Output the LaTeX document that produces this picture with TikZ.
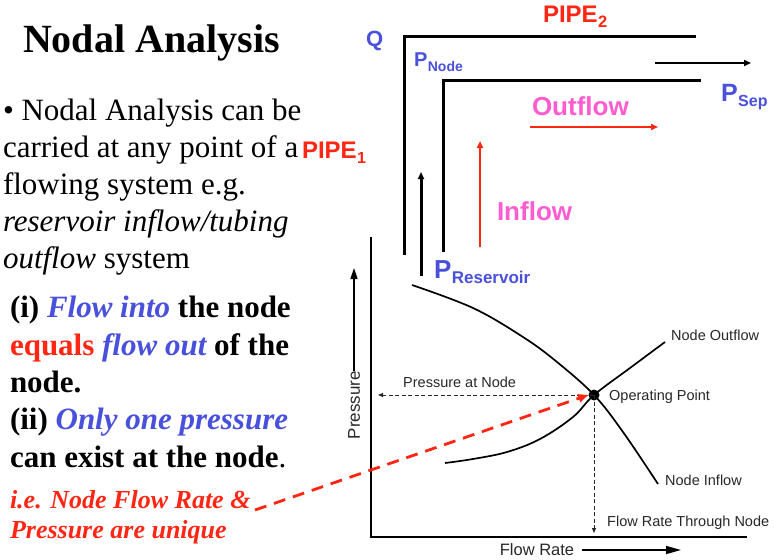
\documentclass[tikz,border=0pt]{standalone}
\usepackage{fontspec}
\setmainfont{Liberation Serif}
\newfontfamily\arial{Liberation Sans}
\usetikzlibrary{arrows.meta}
\definecolor{myblue}{RGB}{72,80,220}
\definecolor{myred}{RGB}{255,38,20}
\definecolor{mypink}{RGB}{255,92,210}
\definecolor{graytext}{RGB}{40,40,40}
\newcommand{\fs}[1]{\fontsize{#1}{#1}\selectfont}
\newcommand{\Psub}[4]{{\fs{#3}#1}\kern0.5pt\raisebox{-5pt}{\fs{#4}#2}}
\begin{document}
\begin{tikzpicture}[x=1pt,y=-1pt,
  txtline/.style={anchor=base west, inner sep=0pt, outer sep=0pt},
  body/.style={txtline, font=\fs{31}},
  boldbody/.style={txtline, font=\fs{31}\bfseries},
  note/.style={txtline, font=\fs{26}\bfseries\itshape, text=myred},
  plab/.style={txtline, font=\arial\bfseries},
  glab/.style={anchor=west, inner sep=0pt, font=\arial\fs{14.5}, text=graytext},
  pipe/.style={line width=3pt, line cap=rect},
  guide/.style={dash pattern=on 4pt off 2.5pt, line width=0.8pt, draw=graytext, -{Triangle[length=5pt,width=4pt]}},
  curve/.style={line width=1.7pt},
  axis/.style={line width=2pt}
]
\useasboundingbox (0,0) rectangle (775,559);
\fill[white] (0,0) rectangle (775,559);

% ---------- left text ----------
\node[txtline, font=\fs{40}\bfseries] (title) at (23,53) {Nodal Analysis};
\node[body] (b1) at (3,120) {• Nodal Analysis can be};
\node[body] (b2) at (3,157) {carried at any point of a};
\node[body] (b3) at (3,194) {flowing system e.g.};
\node[body] (b4) at (3,231) {\itshape reservoir inflow/tubing};
\node[body] (b5) at (3,268) {{\itshape outflow} system};

\node[boldbody] (c1) at (10,317) {(i) \textcolor{myblue}{\itshape Flow into} the node};
\node[boldbody] (c2) at (10,355) {\textcolor{myred}{equals} \textcolor{myblue}{\itshape flow out} of the};
\node[boldbody] (c3) at (10,392) {node.};
\node[boldbody] (c4) at (10,429) {(ii) \textcolor{myblue}{\itshape Only one pressure}};
\node[boldbody] (c5) at (10,467) {can exist at the node{\mdseries .}};

\node[note] (n1) at (10,508) {i.e. Node Flow Rate \&};
\node[note] (n2) at (10,538) {Pressure are unique};
\coordinate (nend) at (255,510);

% ---------- pipe diagram ----------
\draw[pipe] (404,253) -- (404,37) -- (694,37);
\draw[pipe] (443,250) -- (443,81) -- (699,81);

\node[plab, text=myred] (pipe2) at (543,23) {\Psub{PIPE}{2}{24}{16.5}};
\node[plab, text=myred] (pipe1) at (302,158) {\Psub{PIPE}{1}{24}{16}};
\node[plab, text=myblue, font=\arial\bfseries\fs{22}] (q) at (366,47) {Q};
\node[plab, text=myblue] (pnode) at (414,67) {\Psub{P}{Node}{20}{14}};
\node[plab, text=myblue] (psep) at (721,102) {\Psub{P}{Sep}{25}{16}};
\node[plab, text=myblue] (pres) at (434,278) {\Psub{P}{Reservoir}{26}{17}};
\node[plab, text=mypink, font=\arial\bfseries\fs{26}] (outflow) at (532,115) {Outflow};
\node[plab, text=mypink, font=\arial\bfseries\fs{26}] (inflow) at (497,220) {Inflow};

\coordinate (sepA) at (655,63);
\coordinate (sepB) at (751,63);
\draw[line width=2pt, -{Triangle[length=7pt,width=6pt]}] (sepA) -- (sepB);
\coordinate (upA) at (421,276);
\coordinate (upB) at (421,172);
\draw[line width=3pt, -{Triangle[length=7pt,width=6pt]}] (upA) -- (upB);
\coordinate (inA) at (480,247);
\coordinate (inB) at (480,141);
\draw[line width=2.5pt, myred, -{Triangle[length=7pt,width=6pt]}] (inA) -- (inB);
\coordinate (outA) at (530,127);
\coordinate (outB) at (658,127);
\draw[line width=2.5pt, myred, -{Triangle[length=7pt,width=6pt]}] (outA) -- (outB);

% ---------- graph ----------
\coordinate (ytop) at (371,237);
\coordinate (orig) at (371,537);
\coordinate (xend) at (747,537);
\draw[axis] (ytop) -- (orig) -- (xend);

\node[rotate=90, inner sep=0pt, font=\arial\fs{17}, text=graytext] (plabel) at (354,405) {Pressure};
\coordinate (parr) at (354,268);
\draw[line width=1.6pt, -{Triangle[length=11pt,width=7pt]}] ([xshift=0pt]plabel.east) -- (parr);

\node[inner sep=0pt, font=\arial\fs{16.5}, text=graytext] (flabel) at (537,550) {Flow Rate};
\coordinate (farr) at (681,550);
\draw[line width=1.6pt, -{Triangle[length=15pt,width=8pt]}] ([xshift=8pt]flabel.east) -- (farr);

\node[circle, fill=black, inner sep=0pt, minimum size=11pt] (op) at (594,395) {};

\draw[curve] plot[smooth, tension=0.6] coordinates {(412,285) (473,308) (523,337) (557,362) (594,395) (623,432) (658,484)};
\draw[curve] plot[smooth, tension=0.6] coordinates {(445,463) (473,459) (507,452) (540,439) (573,417) (594,395) (630,368) (665,342)};

\coordinate (pleft) at (378,395);
\coordinate (fdown) at (594,533);
\draw[guide] (op.center) -- (pleft);
\draw[guide] (op.center) -- (fdown);

\node[glab] (lout) at (671,335) {Node Outflow};
\node[glab] (lop) at (609,397) {Operating Point};
\node[glab] (lpn) at (403,382) {Pressure at Node};
\node[glab] (lin) at (665,480) {Node Inflow};
\node[glab] (lfr) at (607,523) {Flow Rate Through Node};

\draw[myred, line width=2.8pt, dash pattern=on 12pt off 8pt, -{Triangle[length=10pt,width=8pt]}] (nend) -- (op.west);
\end{tikzpicture}
\end{document}
